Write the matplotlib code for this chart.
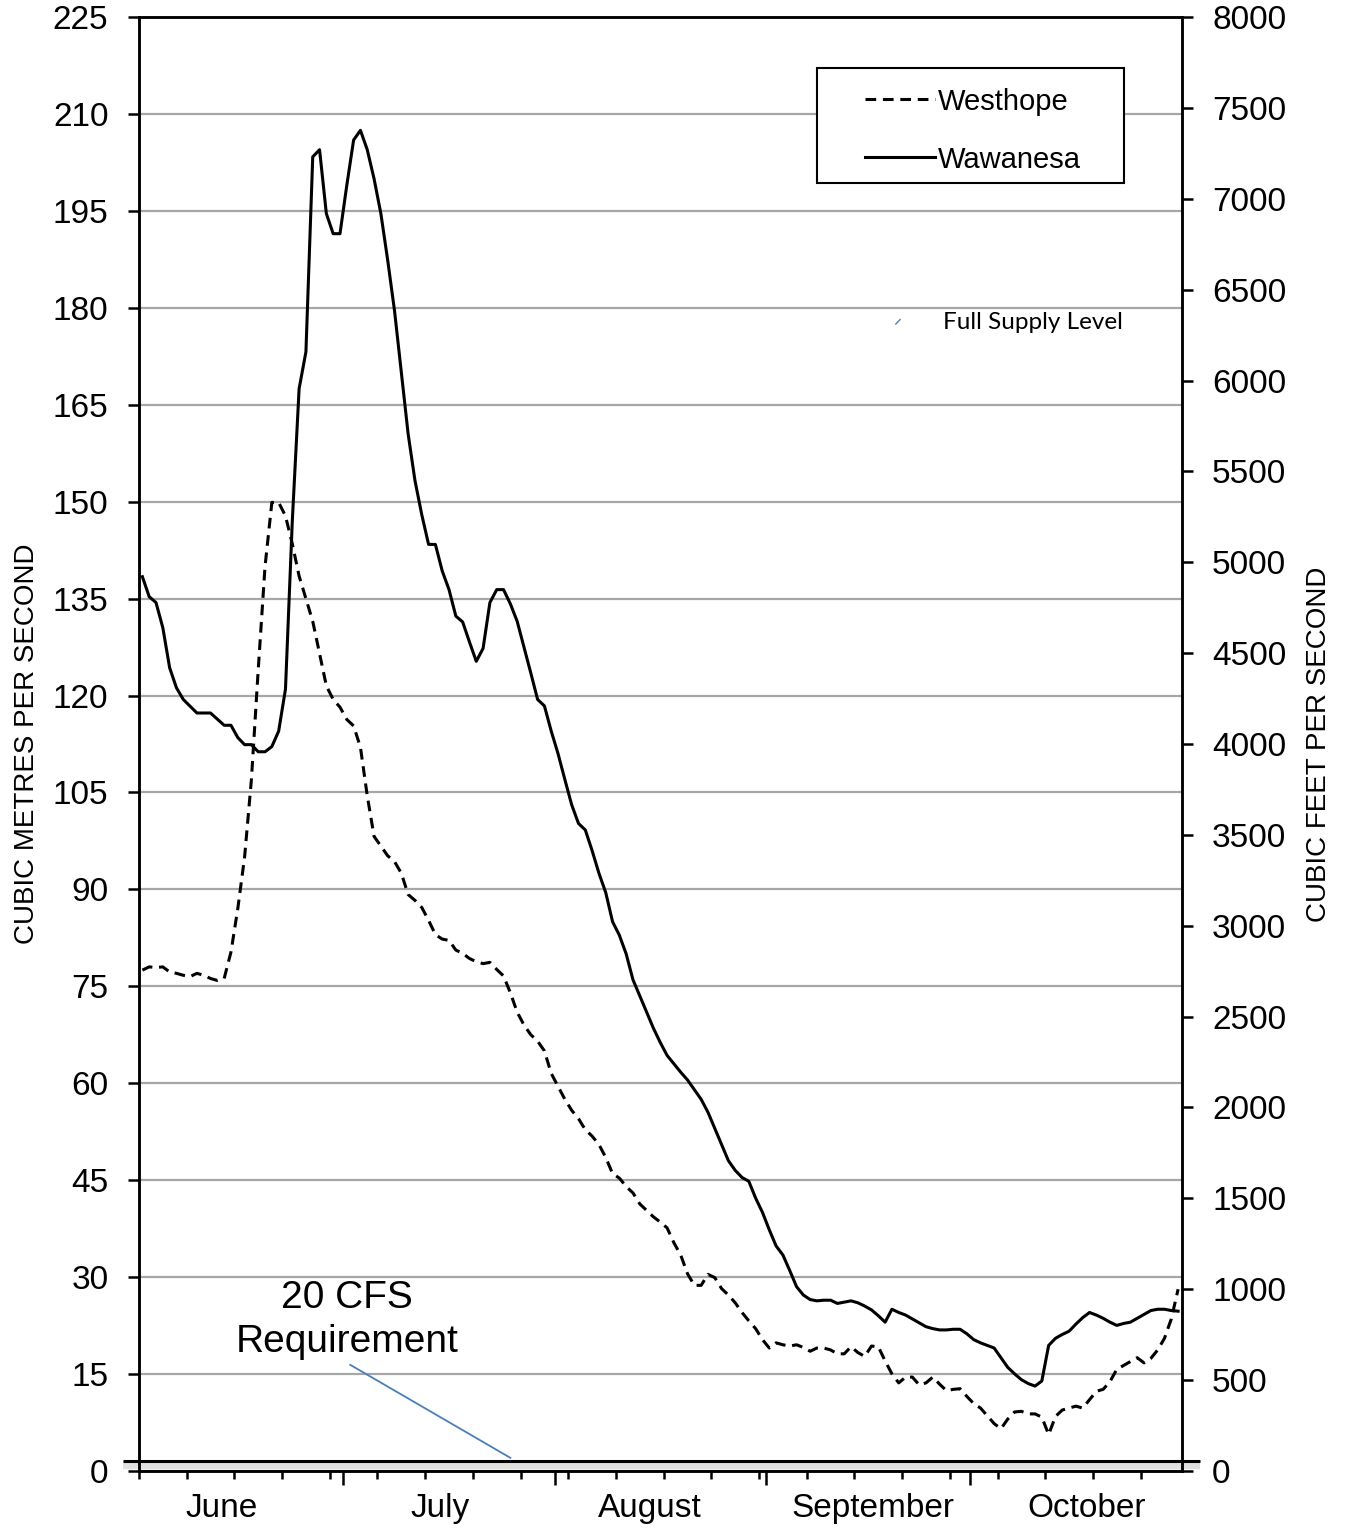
import numpy as np
import matplotlib
matplotlib.use('Agg')
import matplotlib.pyplot as plt
import matplotlib.patheffects as pe
from matplotlib.patches import Rectangle
from matplotlib.ticker import MultipleLocator, FixedLocator

plt.rcParams['font.family'] = ['Liberation Sans', 'DejaVu Sans']

# days since June 1
wawanesa_days = [0, 1, 2, 3, 4, 5, 6, 8, 10, 12, 13, 14, 15, 16, 17, 18, 19, 20, 21, 22,
                 23, 24, 25, 26, 27, 28, 29, 30, 31, 32, 33, 34, 35, 36, 37, 38, 39, 40,
                 41, 42, 43, 44, 45, 46, 47, 48, 49, 50, 51, 52, 53, 54, 55, 56, 57, 58,
                 59, 60, 61, 62, 63, 64, 65, 66, 67, 68, 69, 70, 71, 72, 73, 74, 75, 76,
                 77, 78, 79, 80, 81, 82, 83, 84, 85, 86, 87, 88, 89, 90, 91, 92, 93, 94,
                 95, 96, 97, 98, 99, 100, 101, 102, 103, 104, 105, 106, 107, 108, 109,
                 110, 111, 112, 113, 114, 115, 116, 117, 118, 119, 120, 121, 122, 123,
                 124, 125, 126, 127, 128, 129, 130, 131, 132, 133, 134, 135, 136, 137,
                 138, 139, 140, 141, 142, 143, 144, 145, 146, 147, 148, 149, 150, 151, 152]
wawanesa_cms = [138.4, 135.3, 134.4, 130.5, 124.3, 121.2, 119.4, 117.3, 117.3, 115.4, 115.4,
                113.5, 112.4, 112.4, 111.3, 111.3, 112.1, 114.5, 121.0, 147.0,
                167.5, 173.2, 203.4, 204.5, 194.6, 191.5, 191.5, 199.0, 206.0, 207.5,
                204.5, 200.0, 194.6, 187.4, 179.6, 170.0, 160.5, 153.3, 148.0, 143.4,
                143.4, 139.3, 136.4, 132.3, 131.4, 128.3, 125.3, 127.3, 134.4, 136.4,
                136.4, 134.2, 131.5, 127.5, 123.5, 119.4, 118.4, 114.5, 111.0, 107.0,
                103.1, 100.2, 99.2, 96.0, 92.5, 89.5, 85.0, 82.9, 80.0, 76.0, 73.5, 71.0,
                68.5, 66.3, 64.3, 63.0, 61.7, 60.5, 59.0, 57.5, 55.5, 53.0, 50.5, 48.0,
                46.5, 45.4, 44.8, 42.2, 40.0, 37.3, 34.8, 33.4, 31.0, 28.5, 27.2, 26.5,
                26.3, 26.4, 26.4, 25.9, 26.1, 26.3, 26.0, 25.5, 24.9, 24.0, 23.0, 25.0,
                24.5, 24.1, 23.5, 22.9, 22.3, 22.0, 21.8, 21.8, 21.9, 21.9, 21.2, 20.3,
                19.8, 19.4, 19.0, 17.5, 16.0, 15.0, 14.1, 13.5, 13.1, 13.9, 19.4, 20.5,
                21.1, 21.6, 22.7, 23.7, 24.5, 24.1, 23.6, 23.0, 22.5, 22.8, 23.0, 23.6,
                24.2, 24.8, 25.0, 25.0, 24.8, 24.7]

westhope_days = list(range(0, 153))
westhope_cms = [77.5, 78.0, 77.9, 78.0, 77.2, 77.0, 76.7, 76.5, 77.0, 76.7, 76.2, 75.9, 76.2,
                80.3, 87.0, 95.0, 107.0, 124.0, 140.0, 149.9, 149.9, 147.8, 143.5, 138.5,
                135.0, 131.5, 126.5, 121.5, 119.4, 118.2, 116.3, 115.3, 112.0, 104.5, 98.2,
                96.7, 95.2, 94.3, 92.5, 89.2, 88.3, 87.2, 85.2, 83.0, 82.3, 82.1, 80.6,
                80.1, 79.3, 78.8, 78.5, 78.7, 77.6, 76.6, 74.0, 71.0, 69.0, 67.5, 66.5,
                65.0, 61.5, 59.5, 57.5, 55.8, 54.5, 52.8, 51.8, 50.5, 48.5, 46.0, 45.3,
                44.0, 43.0, 41.3, 40.3, 39.3, 38.5, 37.6, 35.3, 33.4, 30.5, 28.7, 28.7,
                30.4, 29.9, 28.2, 27.2, 26.0, 24.5, 23.2, 22.0, 20.3, 19.0, 19.8, 19.5,
                19.3, 19.5, 19.1, 18.5, 19.0, 19.0, 18.7, 18.1, 18.1, 19.2, 18.3, 17.7,
                19.3, 19.2, 17.0, 15.0, 13.6, 14.5, 14.5, 13.3, 13.6, 14.5, 13.4, 12.4,
                12.6, 12.7, 11.5, 10.4, 9.7, 8.5, 7.3, 6.5, 8.0, 9.1, 9.2, 8.8, 8.8, 8.3,
                5.6, 8.4, 9.4, 9.7, 10.0, 9.7, 11.0, 12.3, 12.6, 13.8, 15.7, 16.3, 16.9,
                17.5, 16.7, 17.4, 18.7, 20.5, 23.5, 28.1]

months = ['June', 'July', 'August', 'September', 'October']
month_label_days = [11.6, 43.7, 74.5, 107.2, 138.6]
month_starts = [29.5, 60.5, 91.5, 121.5]
requirement_cms = 1.5

fig = plt.figure(figsize=(13.48, 15.29), dpi=100)
ax = fig.add_axes([0.1031, 0.0381, 0.7734, 0.9506])
ax2 = ax.twinx()

ax.plot(westhope_days, westhope_cms, color='black', lw=2.2, ls=(0, (3.5, 2.2)), label='Westhope')
ax.plot(wawanesa_days, wawanesa_cms, color='black', lw=2.2, label='Wawanesa')

# 20 cfs requirement line, drawn past both spines
ax.plot([-0.015, 1.018], [requirement_cms, requirement_cms], color='black', lw=2.2,
        transform=ax.get_yaxis_transform(), clip_on=False, solid_capstyle='butt',
        path_effects=[pe.SimpleLineShadow(offset=(0, -3), shadow_color='#999999', alpha=0.3, linewidth=6),
                      pe.Normal()])

ax.set_xlim(-0.5, 152.5)
ax.set_ylim(0, 225)
ax2.set_ylim(0, 8000)
ax.yaxis.set_major_locator(MultipleLocator(15))
ax2.yaxis.set_major_locator(MultipleLocator(500))
ax.grid(axis='y', color='#a6a6a6', lw=1.6)
ax.set_axisbelow(True)

ax.xaxis.set_major_locator(FixedLocator(month_starts))
ax.xaxis.set_minor_locator(FixedLocator(np.arange(-0.5, 153, 7)))
ax.set_xticklabels([])
ax.tick_params(axis='x', which='major', length=10, width=1.8, direction='out')
ax.tick_params(axis='x', which='minor', length=6, width=1.8, direction='out')
ax.tick_params(axis='y', length=8, width=1.8, labelsize=24, pad=14)
ax2.tick_params(axis='y', length=8, width=1.8, labelsize=24, pad=14)
for a in (ax, ax2):
    for s in a.spines.values():
        s.set_linewidth(1.8)

for name, d in zip(months, month_label_days):
    ax.text(d, -0.026, name, transform=ax.get_xaxis_transform(), ha='center', va='center',
            fontsize=24)

ax.set_ylabel('CUBIC METRES PER SECOND', fontsize=20, labelpad=9)
ax2.set_ylabel('CUBIC FEET PER SECOND', fontsize=20, labelpad=14)

# legend box
ax.add_patch(Rectangle((0.650, 0.886), 0.295, 0.079, transform=ax.transAxes, fill=True,
                       facecolor='white', edgecolor='black', lw=1.5, zorder=5))
leg = ax.legend(loc='center left', bbox_to_anchor=(0.696, 0.922), fontsize=21, frameon=False,
                handlelength=2.4, handletextpad=0.1, borderpad=0, labelspacing=1.03,
                borderaxespad=0)
leg.set_zorder(6)

ax.text(0.771, 0.79, 'Full Supply Level', transform=ax.transAxes, fontsize=17.5,
        family=['Lato', 'DejaVu Sans'], va='center', ha='left')
ax.plot([0.726, 0.730], [0.789, 0.792], transform=ax.transAxes, color='#4a7ebb', lw=1)

ax.text(30.0, 23.3, '20 CFS\nRequirement', ha='center', va='center', fontsize=28,
        linespacing=1.3)
ax.plot([30.5, 54.0], [16.4, 2.0], color='#4a7ebb', lw=1.3)

fig.savefig('out.png', dpi=100)
